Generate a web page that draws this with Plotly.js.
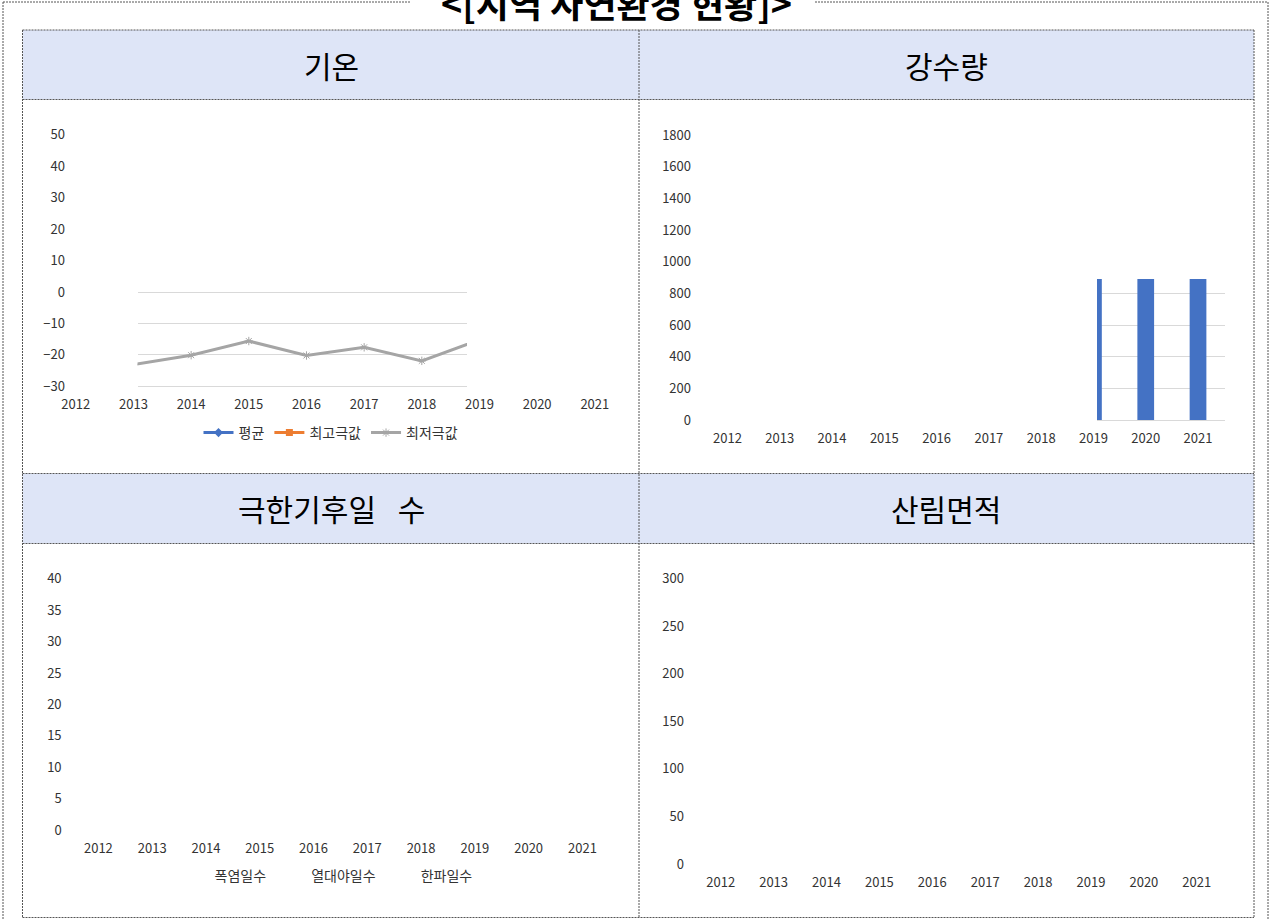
<!DOCTYPE html>
<html>
<head>
<meta charset="utf-8">
<script src="https://cdn.plot.ly/plotly-3.0.1.min.js"></script>
<style>
html,body{margin:0;padding:0;background:#fff;}
#chart{width:1270px;height:920px;}
</style>
</head>
<body>
<div id="chart"></div>
<script>
// ---------------- data ----------------
const years = [2012, 2013, 2014, 2015, 2016, 2017, 2018, 2019, 2020, 2021];
const yearLabels = years.map(String);

// 기온
const tempMean = [null, null, null, null, null, null, null, null, null, null];
const tempHigh = [null, null, null, null, null, null, null, null, null, null];
const tempLow  = [null, -23.1, -20.1, -15.6, -20.2, -17.6, -21.9, -15.2, null, null];

// 강수량
const rainfall = [null, null, null, null, null, null, null, 1180, 1650, 1320];

// 극한기후일 수
const heatDays       = [null, null, null, null, null, null, null, null, null, null];
const tropicalNights = [null, null, null, null, null, null, null, null, null, null];
const coldWaveDays   = [null, null, null, null, null, null, null, null, null, null];

// 산림면적
const forestArea = [null, null, null, null, null, null, null, null, null, null];

// titles
const mainTitle = '&lt;[지역 자연환경 현황]&gt;';
const panelTitles = ['기온', '강수량', '극한기후일\u2002 수', '산림면적'];
const tempNames = ['평균', '최고극값', '최저극값'];
const extremeNames = ['폭염일수', '열대야일수', '한파일수'];

// ---------------- layout helpers ----------------
const W = 1270, H = 920;
const fx = px => px / W;
const fy = py => 1 - py / H;
const FONT = '"Noto Sans CJK KR", "Noto Sans", sans-serif';
const TXT = '#333333';

// pixel scales of each panel (year -> px, value -> px)
const S = {
  TL: {x0: 75.8, dx: 57.67, yz: 292, ky: 3.1433},
  TR: {x0: 727.5, dx: 52.28, yz: 420, ky: 0.15833},
  BL: {x0: 98.4, dx: 53.78, yz: 830, ky: 6.2825},
  BR: {x0: 720.7, dx: 52.9, yz: 864, ky: 0.9510}
};
const xVal = (s, px) => 2012 + (px - s.x0) / s.dx;
const yVal = (s, py) => (s.yz - py) / s.ky;

function box(s, l, r, b, t) {
  return {
    xr: [xVal(s, l), xVal(s, r)], xd: [fx(l), fx(r)],
    yr: [yVal(s, b), yVal(s, t)], yd: [fy(b), fy(t)]
  };
}

const tickFont = {family: FONT, size: 13, color: TXT};

function labelAxes(s, l, r, b, t, dtick, yId, xId) {
  const bx = box(s, l, r, b, t);
  const xa = {
    domain: bx.xd, range: bx.xr, anchor: yId,
    tickmode: 'array', tickvals: years, ticktext: yearLabels,
    showgrid: false, zeroline: false, showline: false, ticks: '',
    tickfont: tickFont, fixedrange: true
  };
  const ya = {
    domain: bx.yd, range: bx.yr, anchor: xId,
    tickmode: 'linear', tick0: 0, dtick: dtick,
    showgrid: false, zeroline: false, showline: false, ticks: '',
    tickfont: tickFont, fixedrange: true
  };
  return [xa, ya];
}

function dataAxes(s, l, r, b, t, dtick, yId, xId) {
  const bx = box(s, l, r, b, t);
  const xa = {
    domain: bx.xd, range: bx.xr, anchor: yId,
    showgrid: false, zeroline: false, showline: false, showticklabels: false, ticks: '',
    fixedrange: true
  };
  const ya = {
    domain: bx.yd, range: bx.yr, anchor: xId,
    tickmode: 'linear', tick0: 0, dtick: dtick,
    showgrid: true, gridcolor: '#d9d9d9', gridwidth: 1,
    zeroline: false, showline: false, showticklabels: false, ticks: '',
    fixedrange: true
  };
  return [xa, ya];
}

// label axes (tick labels only) and clipped data areas
const [xa1, ya1] = labelAxes(S.TL, 66, 623, 395, 128, 10, 'y', 'x');
const [xa2, ya2] = dataAxes(S.TL, 137.5, 467, 388, 288.5, 10, 'y2', 'x2');
const [xa3, ya3] = labelAxes(S.TR, 692, 1224, 429, 128, 200, 'y3', 'x3');
const [xa4, ya4] = dataAxes(S.TR, 1097, 1225, 422, 279, 200, 'y4', 'x4');
const [xa5, ya5] = labelAxes(S.BL, 62.6, 609, 839, 572, 5, 'y5', 'x5');
const [xa6, ya6] = labelAxes(S.BR, 685, 1224, 873, 572, 50, 'y6', 'x6');

// ---------------- traces ----------------
const traces = [
  // empty carriers so the tick-label axes of the two upper panels are drawn
  {type: 'scatter', mode: 'lines', x: [], y: [], xaxis: 'x', yaxis: 'y', showlegend: false},
  {type: 'scatter', mode: 'lines', x: [], y: [], xaxis: 'x3', yaxis: 'y3', showlegend: false},

  {type: 'scatter', mode: 'lines+markers', name: tempNames[0], x: years, y: tempMean,
   xaxis: 'x2', yaxis: 'y2', legend: 'legend',
   line: {color: '#4472C4', width: 3}, marker: {symbol: 'diamond', size: 7, color: '#4472C4'}},
  {type: 'scatter', mode: 'lines+markers', name: tempNames[1], x: years, y: tempHigh,
   xaxis: 'x2', yaxis: 'y2', legend: 'legend',
   line: {color: '#ED7D31', width: 3}, marker: {symbol: 'square', size: 7, color: '#ED7D31'}},
  {type: 'scatter', mode: 'lines+markers', name: tempNames[2], x: years, y: tempLow,
   xaxis: 'x2', yaxis: 'y2', legend: 'legend', cliponaxis: true,
   line: {color: '#A5A5A5', width: 3},
   marker: {symbol: 'asterisk-open', size: 7, color: '#A5A5A5', line: {color: '#A5A5A5', width: 1}}},
  {type: 'bar', name: '강수량', x: years, y: rainfall, xaxis: 'x4', yaxis: 'y4',
   width: 0.32, marker: {color: '#4472C4'}, showlegend: false},
  {type: 'scatter', mode: 'lines', name: extremeNames[0], x: years, y: heatDays,
   xaxis: 'x5', yaxis: 'y5', legend: 'legend2', line: {width: 0, color: '#4472C4'}},
  {type: 'scatter', mode: 'lines', name: extremeNames[1], x: years, y: tropicalNights,
   xaxis: 'x5', yaxis: 'y5', legend: 'legend2', line: {width: 0, color: '#ED7D31'}},
  {type: 'scatter', mode: 'lines', name: extremeNames[2], x: years, y: coldWaveDays,
   xaxis: 'x5', yaxis: 'y5', legend: 'legend2', line: {width: 0, color: '#A5A5A5'}},
  {type: 'bar', name: '산림면적', x: years, y: forestArea, xaxis: 'x6', yaxis: 'y6',
   marker: {color: '#4472C4'}, showlegend: false}
];

// ---------------- frame shapes ----------------
const DASH = '2px,1px';
const LC = '#555555';
const hdrFill = '#dee5f7';
function pline(x0, y0, x1, y1) {
  return {type: 'line', xref: 'paper', yref: 'paper', x0: fx(x0), y0: fy(y0), x1: fx(x1), y1: fy(y1),
          line: {color: LC, width: 1, dash: DASH}, layer: 'above'};
}
function prect(x0, y0, x1, y1, fill) {
  return {type: 'rect', xref: 'paper', yref: 'paper', x0: fx(x0), y0: fy(y0), x1: fx(x1), y1: fy(y1),
          fillcolor: fill, line: {width: 0}, layer: 'below'};
}
const shapes = [
  prect(22.5, 30, 1254, 99.5, hdrFill),
  prect(22.5, 473.5, 1254, 543.5, hdrFill),
  // outer frame
  pline(3, 2, 3, 930),
  pline(3, 2, 411, 2),
  pline(815, 2, 1268, 2),
  pline(1268, 2, 1268, 930),
  // table
  pline(22.5, 30, 1254, 30),
  pline(22.5, 99.5, 1254, 99.5),
  pline(22.5, 473.5, 1254, 473.5),
  pline(22.5, 543.5, 1254, 543.5),
  pline(22.5, 917.5, 1254, 917.5),
  pline(22.5, 30, 22.5, 917.5),
  pline(639, 30, 639, 917.5),
  pline(1254, 30, 1254, 917.5)
];

function ann(text, xpx, ypx, size, bold) {
  return {xref: 'paper', yref: 'paper', x: fx(xpx), y: fy(ypx), xanchor: 'center', yanchor: 'middle',
          text: bold ? '<b>' + text + '</b>' : text, showarrow: false,
          font: {family: FONT, size: size, color: '#000000'}};
}
const annotations = [
  ann(mainTitle, 616, 2.5, 36, true),
  ann(panelTitles[0], 331, 65, 30, false),
  ann(panelTitles[1], 946, 65, 30, false),
  ann(panelTitles[2], 331, 508, 30, false),
  ann(panelTitles[3], 946, 508, 30, false)
];

const layout = {
  width: W, height: H,
  margin: {l: 0, r: 0, t: 0, b: 0},
  paper_bgcolor: '#ffffff', plot_bgcolor: 'rgba(0,0,0,0)',
  font: {family: FONT, color: TXT},
  showlegend: true,
  xaxis: xa1, yaxis: ya1, xaxis2: xa2, yaxis2: ya2,
  xaxis3: xa3, yaxis3: ya3, xaxis4: xa4, yaxis4: ya4,
  xaxis5: xa5, yaxis5: ya5, xaxis6: xa6, yaxis6: ya6,
  legend: {orientation: 'h', x: fx(331), y: fy(433), xanchor: 'center', yanchor: 'middle',
           font: {family: FONT, size: 14, color: TXT}, bgcolor: 'rgba(0,0,0,0)'},
  legend2: {orientation: 'h', x: fx(326), y: fy(876), xanchor: 'center', yanchor: 'middle',
            font: {family: FONT, size: 14, color: TXT}, bgcolor: 'rgba(0,0,0,0)'},
  shapes: shapes,
  annotations: annotations,
  hovermode: false
};

Plotly.newPlot('chart', traces, layout, {staticPlot: true, displayModeBar: false});
</script>
</body>
</html>
